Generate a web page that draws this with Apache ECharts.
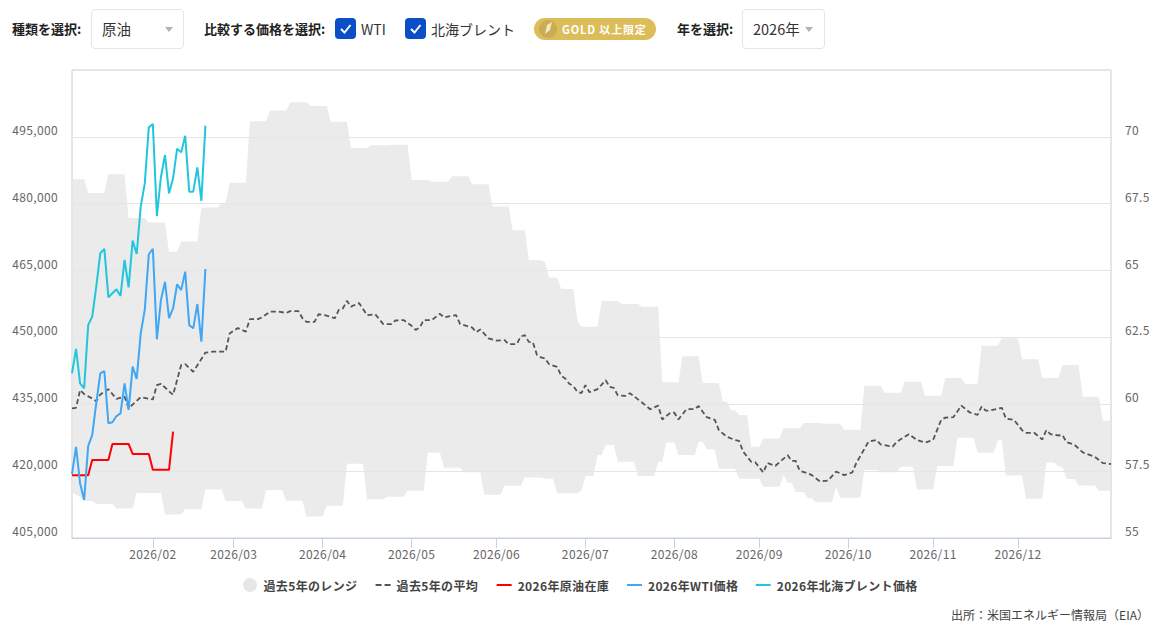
<!DOCTYPE html>
<html lang="ja">
<head>
<meta charset="utf-8">
<title>原油在庫</title>
<script src="https://cdn.jsdelivr.net/npm/echarts@6/dist/echarts.min.js"></script>
<style>
html,body{margin:0;padding:0;background:#fff;width:1161px;height:632px;overflow:hidden;font-family:"Noto Sans CJK JP","Noto Sans",sans-serif;color:#333}
#chart{position:absolute;left:0;top:0;width:1161px;height:632px}
#chart svg text{letter-spacing:.35px}
.c{position:absolute;white-space:nowrap}
.lb{font-size:13px;font-weight:700;color:#222;top:19px;line-height:20px}
.sel{border:1px solid #dfe8ec;border-radius:4px;box-sizing:border-box;height:40px;top:9px;font-size:14.5px;line-height:38px;color:#333}
.sel span{position:absolute;left:10px;top:0}
.sel i{position:absolute;top:17px;width:0;height:0;border-left:4px solid transparent;border-right:4px solid transparent;border-top:5px solid #a9b4bb}
.cb{width:21px;height:21px;top:18px;background:#0b4fc8;border-radius:4px}
.cb svg{position:absolute;left:0;top:0}
.ct{font-size:14px;top:19px;line-height:20px;color:#333}
.pill{left:534px;top:18px;width:122px;height:22px;border-radius:11px;background:#dcbd59}
.pill b{position:absolute;left:28px;top:0;line-height:22px;font-size:11px;font-weight:700;color:#fff;letter-spacing:.85px}
.pill svg{position:absolute;left:4px;top:1px}
.src{right:12px;top:605px;font-size:12px;line-height:20px;color:#444}
</style>
</head>
<body>
<div id="chart"></div>
<div class="c lb" style="left:12px">種類を選択:</div>
<div class="c sel" style="left:91px;width:93px"><span>原油</span><i style="left:73px"></i></div>
<div class="c lb" style="left:204px">比較する価格を選択:</div>
<div class="c cb" style="left:335px"><svg width="21" height="21"><path d="M6 11 L9.5 14.5 L15.5 7" fill="none" stroke="#fff" stroke-width="2"/></svg></div>
<div class="c ct" style="left:361px">WTI</div>
<div class="c cb" style="left:405px"><svg width="21" height="21"><path d="M6 11 L9.5 14.5 L15.5 7" fill="none" stroke="#fff" stroke-width="2"/></svg></div>
<div class="c ct" style="left:431px">北海ブレント</div>
<div class="c pill"><svg width="20" height="20"><circle cx="10" cy="10" r="9" fill="#c9ad52"/><path d="M7 15 L9 6 L14 3 L12 11 Z" fill="#f3e7bd"/></svg><b>GOLD 以上限定</b></div>
<div class="c lb" style="left:677px">年を選択:</div>
<div class="c sel" style="left:742px;width:83px"><span>2026年</span><i style="left:62px"></i></div>
<div class="c src">出所：米国エネルギー情報局（EIA）</div>
<script>
// Trading-day count per month (category axis is business days)
const monthNames = ['2026/01','2026/02','2026/03','2026/04','2026/05','2026/06','2026/07','2026/08','2026/09','2026/10','2026/11','2026/12'];
const monthCounts = [20,20,22,22,21,22,22,21,22,21,21,24];

// 5-year range, weekly levels: [first day index, level]
const rangeHighWeeks = [[0,485500],[4,482400],[9,486600],[14,476800],[19,475800],[24,469200],[27,471500],[32,479150],[37,480200],[39,484700],[44,498500],[49,500900],[54,502750],[59,501900],[64,498400],[69,492500],[74,493100],[79,493250],[84,485300],[89,484900],[94,486150],[99,484350],[104,479400],[109,474050],[113,467300],[117,466850],[118,463400],[121,460850],[125,453750],[126,452400],[131,458150],[136,457500],[141,456900],[146,439950],[151,445750],[156,439800],[161,435650],[163,433650],[165,432600],[168,425500],[171,427300],[176,429600],[181,430800],[186,430650],[191,429300],[196,439150],[201,437600],[206,440050],[211,436900],[216,440900],[221,439550],[225,448150],[230,449800],[235,445100],[240,440900],[245,443800],[250,436700],[255,431300]];
const rangeLowWeeks = [[0,415400],[1,414650],[2,414250],[3,413300],[6,412650],[11,411600],[16,415100],[23,410300],[28,411450],[33,415900],[38,413300],[43,411600],[48,415750],[53,413350],[58,409850],[63,412250],[68,421650],[73,413700],[78,414250],[83,415600],[88,424150],[92,420750],[97,419750],[102,414700],[107,416750],[112,418600],[117,418300],[120,415050],[126,415550],[127,418900],[130,423600],[132,425850],[135,422100],[140,418900],[145,422100],[147,426450],[150,423600],[155,426600],[157,424900],[160,420550],[165,418300],[171,416500],[176,419150],[177,417400],[179,415300],[182,413900],[184,413000],[189,416500],[190,414050],[196,420250],[200,419750],[205,421000],[209,415900],[214,421150],[219,427500],[224,424150],[229,426850],[231,419000],[236,413800],[241,421900],[244,421000],[246,418250],[249,416800],[254,415600]];

// 5-year mean, read at the kinks of the line: [day index, value]
const meanLine = [[0,434100],[1,434200],[2,438200],[3,437300],[5,436300],[6,435700],[7,437200],[9,438400],[11,436200],[13,436700],[14,434100],[17,436600],[20,436100],[21,439300],[22,439600],[25,437100],[27,443800],[28,444000],[30,442300],[33,446600],[35,446800],[38,446800],[39,450900],[41,452100],[43,451300],[44,454100],[46,454100],[47,454500],[49,455800],[51,455800],[53,455500],[54,455900],[56,455900],[57,454300],[58,453500],[60,453500],[61,455200],[63,454900],[65,454300],[66,456200],[67,456500],[68,458200],[69,456900],[71,457700],[73,455000],[75,455200],[77,453000],[79,453000],[80,453800],[82,453900],[84,452600],[85,451700],[86,452200],[87,453900],[89,453900],[91,455300],[92,454500],[95,455000],[96,453000],[99,452200],[100,451200],[101,451800],[103,449800],[105,449300],[107,449400],[108,448500],[110,448500],[111,450200],[112,450500],[113,449000],[114,448900],[115,446100],[116,445500],[117,445300],[118,444000],[120,443400],[121,441400],[122,440800],[123,439600],[124,439100],[125,437800],[126,437500],[127,439300],[128,437700],[130,438400],[132,440400],[133,438900],[134,438700],[135,437000],[137,436900],[138,437500],[140,436100],[141,435400],[143,433900],[145,434700],[146,431600],[148,433100],[149,433100],[150,431600],[152,433900],[154,433900],[155,434600],[157,432100],[159,431500],[160,429200],[162,427700],[164,427000],[165,426800],[166,424400],[168,422100],[169,422000],[171,419700],[172,421800],[174,421200],[177,423600],[178,422300],[179,422300],[180,420100],[182,419500],[183,419100],[185,417700],[187,417900],[189,419900],[191,419100],[193,419700],[194,421800],[197,426600],[199,427000],[200,426000],[203,425500],[204,426600],[207,428300],[209,427000],[211,426400],[213,427000],[215,431500],[216,432000],[218,432100],[220,434700],[222,433200],[224,432600],[225,434500],[226,433600],[227,433600],[230,434200],[231,431800],[233,431500],[235,429200],[236,428600],[238,428600],[240,427100],[241,429200],[242,428300],[244,428000],[245,428100],[246,426500],[248,425900],[250,424200],[253,423200],[255,421800],[257,421600]];

// 2026 crude inventory (daily carried weekly figure)
const inventory2026 = [419100,419100,419100,419100,419100,422500,422500,422500,422500,422500,426100,426100,426100,426100,426100,423850,423850,423850,423850,423850,420300,420300,420300,420300,420300,428850];
// 2026 prices
const wti2026 = [57.39,58.41,57.05,56.42,58.44,58.85,60.04,61.16,61.24,59.29,59.33,59.56,59.66,60.78,59.79,61.41,60.95,62.65,63.53,65.61,65.81,62.43,63.90,64.58,63.22,63.59,64.49,64.27,64.96,62.96,62.84,63.75,62.34,65.06];
const brent2026 = [61.16,62.07,60.78,60.60,62.96,63.28,64.40,65.65,65.81,64.00,64.15,64.30,64.05,65.40,64.37,66.12,65.62,67.39,68.26,70.36,70.48,67.04,68.51,69.32,67.89,68.45,69.56,69.42,70.04,67.95,67.95,68.86,67.61,70.42];

// Expand to the trading-day categories
const categories = [];
const monthStart = new Set();
monthNames.forEach((m, k) => {
  monthStart.add(categories.length);
  for (let d = 1; d <= monthCounts[k]; d++) categories.push(m + '-' + d);
});
function holdWeeks(weeks) {
  const out = [];
  weeks.forEach(([start, v], k) => {
    const end = k + 1 < weeks.length ? weeks[k + 1][0] : categories.length;
    for (let i = start; i < end; i++) out.push(v);
  });
  return out;
}
const rangeHigh = holdWeeks(rangeHighWeeks);
const rangeLow = holdWeeks(rangeLowWeeks);
const rangeSpan = rangeHigh.map((v, i) => v - rangeLow[i]);

const isMonthTick = (i) => i > 0 && monthStart.has(i);
const font = '"Noto Sans CJK JP","Noto Sans",sans-serif';
const solidIcon = 'path://M0 0H15V2H0Z';
const dashIcon = 'path://M0 0H6V2H0ZM9 0H15V2H9Z';
const chart = echarts.init(document.getElementById('chart'), null, {renderer: 'svg'});
chart.setOption({
  animation: false,
  textStyle: {fontFamily: font},
  grid: {left: 72, right: 50, top: 70, bottom: 94, show: true, borderColor: '#c9ccd3', borderWidth: 1, backgroundColor: 'transparent'},
  legend: {
    left: 238, top: 573, itemWidth: 15, itemHeight: 14, itemGap: 21,
    textStyle: {fontFamily: font, fontSize: 12, fontWeight: 700, color: '#444', padding: [0, 0, 0, 1]},
    data: [
      {name: '過去5年のレンジ', icon: 'circle', itemStyle: {color: '#e6e6e6'}},
      {name: '過去5年の平均', icon: dashIcon, itemStyle: {color: '#555'}},
      {name: '2026年原油在庫', icon: solidIcon, itemStyle: {color: '#ff0000'}},
      {name: '2026年WTI価格', icon: solidIcon, itemStyle: {color: '#3fa7f5'}},
      {name: '2026年北海ブレント価格', icon: solidIcon, itemStyle: {color: '#22c6dc'}}
    ]
  },
  xAxis: {
    type: 'category', data: categories, boundaryGap: false,
    axisLine: {lineStyle: {color: '#c4d2ea', width: 1}},
    axisTick: {interval: (i) => isMonthTick(i), length: 10, lineStyle: {color: '#c4d2ea'}},
    axisLabel: {interval: (i) => isMonthTick(i), formatter: (v) => v.slice(0, 7), margin: 9, fontSize: 12, color: '#666', fontFamily: font},
    splitLine: {show: false}
  },
  yAxis: [
    {type: 'value', min: 405000, max: 510000, interval: 15000, position: 'left',
      axisLine: {show: false}, axisTick: {show: false},
      splitLine: {lineStyle: {color: '#e5e5e5', width: 1}},
      axisLabel: {showMaxLabel: false, margin: 14, fontSize: 12, lineHeight: 15, color: '#666', fontFamily: font, verticalAlign: 'bottom',
        formatter: (v) => v.toLocaleString('en-US')}},
    {type: 'value', min: 55, max: 72.5, interval: 2.5, position: 'right',
      axisLine: {show: false}, axisTick: {show: false}, splitLine: {show: false},
      axisLabel: {showMaxLabel: false, margin: 14, fontSize: 12, lineHeight: 15, color: '#666', fontFamily: font, verticalAlign: 'bottom'}}
  ],
  series: [
    {name: '過去5年の下限', type: 'line', stack: 'range', data: rangeLow, symbol: 'none', silent: true,
      lineStyle: {width: 0, opacity: 0}, itemStyle: {color: 'transparent'}, z: 1},
    {name: '過去5年のレンジ', type: 'line', stack: 'range', data: rangeSpan, symbol: 'none', silent: true,
      lineStyle: {width: 0, opacity: 0}, itemStyle: {color: '#e6e6e6'}, areaStyle: {color: 'rgba(230,230,230,0.8)', opacity: 1}, z: 1},
    {name: '過去5年の平均', type: 'line', data: meanLine, symbol: 'none', z: 3,
      lineStyle: {color: '#555', width: 1.8, type: [5, 3]}, itemStyle: {color: '#555'}},
    {name: '2026年原油在庫', type: 'line', data: inventory2026, symbol: 'none', z: 4,
      lineStyle: {color: '#ff0000', width: 2}, itemStyle: {color: '#ff0000'}},
    {name: '2026年WTI価格', type: 'line', yAxisIndex: 1, data: wti2026, symbol: 'none', z: 4,
      lineStyle: {color: '#3fa7f5', width: 2}, itemStyle: {color: '#3fa7f5'}},
    {name: '2026年北海ブレント価格', type: 'line', yAxisIndex: 1, data: brent2026, symbol: 'none', z: 5,
      lineStyle: {color: '#22c6dc', width: 2}, itemStyle: {color: '#22c6dc'}}
  ]
});
</script>
</body>
</html>
